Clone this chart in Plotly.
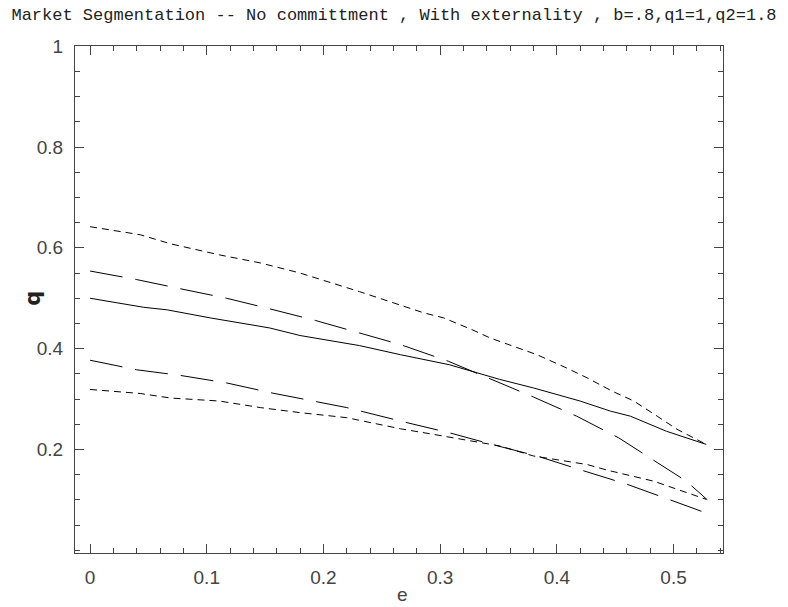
import plotly.graph_objects as go

# Effort level e and quantity q for the five curves
e_top_dot = [0, 0.043, 0.069, 0.111, 0.146, 0.180, 0.231, 0.266, 0.286, 0.303, 0.327,
             0.343, 0.383, 0.408, 0.426, 0.448, 0.466, 0.486, 0.503, 0.528]
q_top_dot = [0.642, 0.626, 0.608, 0.586, 0.570, 0.550, 0.513, 0.487, 0.471, 0.461, 0.438,
             0.421, 0.388, 0.362, 0.342, 0.315, 0.296, 0.266, 0.240, 0.210]

e_up_dash = [0, 0.040, 0.077, 0.117, 0.154, 0.193, 0.231, 0.266, 0.307, 0.351, 0.380,
             0.417, 0.453, 0.486, 0.511, 0.529]
q_up_dash = [0.554, 0.537, 0.519, 0.500, 0.479, 0.456, 0.431, 0.408, 0.375, 0.333, 0.304,
             0.266, 0.223, 0.174, 0.137, 0.100]

e_solid = [0, 0.046, 0.066, 0.103, 0.154, 0.180, 0.231, 0.266, 0.308, 0.351, 0.380,
           0.420, 0.446, 0.463, 0.494, 0.528]
q_solid = [0.500, 0.482, 0.477, 0.461, 0.441, 0.426, 0.406, 0.388, 0.368, 0.339, 0.322,
           0.296, 0.276, 0.266, 0.236, 0.210]

e_low_dash = [0, 0.040, 0.077, 0.117, 0.156, 0.193, 0.220, 0.270, 0.308, 0.346, 0.383,
              0.421, 0.460, 0.497, 0.529]
q_low_dash = [0.377, 0.358, 0.347, 0.332, 0.312, 0.296, 0.283, 0.254, 0.233, 0.209, 0.187,
              0.159, 0.131, 0.100, 0.073]

e_low_dot = [0, 0.043, 0.069, 0.111, 0.146, 0.180, 0.220, 0.266, 0.294, 0.334, 0.351,
             0.380, 0.408, 0.426, 0.443, 0.466, 0.483, 0.503, 0.528]
q_low_dot = [0.319, 0.311, 0.302, 0.296, 0.283, 0.273, 0.263, 0.241, 0.230, 0.213, 0.207,
             0.187, 0.177, 0.170, 0.159, 0.147, 0.137, 0.121, 0.101]

# Tick positions and labels
x_ticks = [0, 0.1, 0.2, 0.3, 0.4, 0.5]
x_tick_text = ["0", "0.1", "0.2", "0.3", "0.4", "0.5"]
y_ticks = [0.2, 0.4, 0.6, 0.8, 1.0]
y_tick_text = ["0.2", "0.4", "0.6", "0.8", "1"]

SHORT = "7px,5px"
LONG = "33px,13px"

curves = [
    (e_top_dot, q_top_dot, SHORT),
    (e_up_dash, q_up_dash, LONG),
    (e_solid, q_solid, "solid"),
    (e_low_dash, q_low_dash, LONG),
    (e_low_dot, q_low_dot, SHORT),
]

fig = go.Figure()
for xs, ys, dash in curves:
    fig.add_trace(go.Scatter(
        x=xs, y=ys, mode="lines",
        line=dict(color="black", width=1, dash=dash),
        showlegend=False, hoverinfo="skip",
    ))

tick_font = dict(family="Liberation Sans", size=19, color="#444444")
axis_common = dict(
    showline=True, linecolor="#444444", linewidth=1, mirror="ticks",
    ticks="inside", tickcolor="#444444", tickwidth=1,
    showgrid=False, zeroline=False, tickfont=tick_font, automargin=False,
)

fig.update_xaxes(
    range=[-0.0129, 0.5424], tickmode="array", tickvals=x_ticks, ticktext=x_tick_text,
    ticklen=9,
    minor=dict(ticks="inside", dtick=0.02, tick0=0, ticklen=5, tickcolor="#444444"),
    ticklabelstandoff=7,
    **axis_common,
)
fig.update_yaxes(
    range=[-0.0055, 1.0005], tickmode="array", tickvals=y_ticks, ticktext=y_tick_text,
    ticklen=9,
    minor=dict(ticks="inside", dtick=0.05, tick0=0, ticklen=5, tickcolor="#444444"),
    ticklabelstandoff=7,
    **axis_common,
)

# Axis names placed beside the frame
fig.add_annotation(
    text="e", x=0.505, xref="paper", y=-41 / 507, yref="paper",
    xanchor="center", yanchor="middle", showarrow=False,
    font=dict(family="Liberation Sans", size=19, color="#444444"),
)
fig.add_annotation(
    text="<b>q</b>", textangle=-90,
    x=-0.065, xref="paper", y=0.503, yref="paper",
    xanchor="center", yanchor="middle", showarrow=False,
    font=dict(family="DejaVu Sans", size=21, color="#222222"),
)

fig.update_layout(
    width=788, height=607,
    margin=dict(l=75, r=65, t=46, b=54),
    paper_bgcolor="white", plot_bgcolor="white",
    title=dict(
        text="Market Segmentation -- No committment , With externality , b=.8,q1=1,q2=1.8",
        font=dict(family="Liberation Mono", size=17, color="#222222"),
        x=0.5, xref="container", xanchor="center",
        y=1 - 14 / 607, yref="container", yanchor="middle",
    ),
)

fig.write_html("out.html")
